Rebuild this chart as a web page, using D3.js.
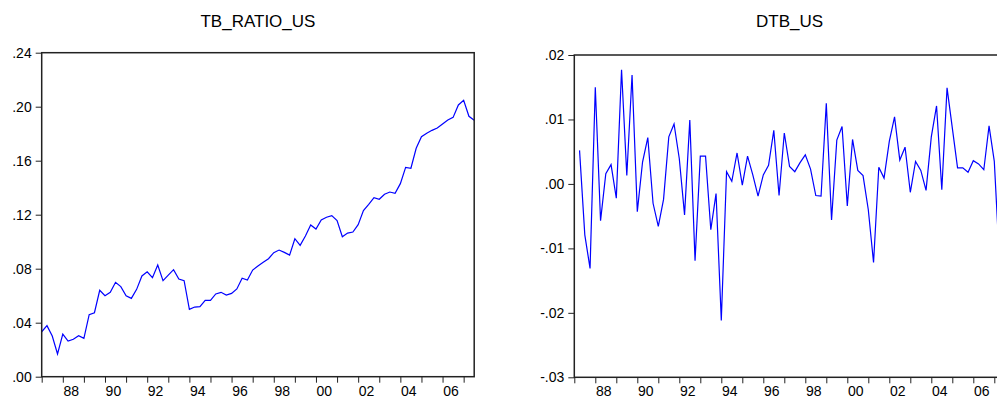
<!DOCTYPE html>
<html>
<head>
<meta charset="utf-8">
<script src="https://cdn.jsdelivr.net/npm/d3@7"></script>
<style>
  body { margin: 0; background: #fff; }
  svg { display: block; font-family: Arial, "Liberation Sans", sans-serif; }
</style>
</head>
<body>
<div id="chart"></div>
<script>
// quarterly sample 1987Q1 .. 2007Q3, index 0 = 1987Q1
const startYear = 1987;
const nObs = 83;

const tbRatio = [
  0.0333, 0.0378, 0.0301, 0.0168, 0.0316, 0.0264, 0.0277, 0.0304, 0.0284, 0.0460,
  0.0474, 0.0640, 0.0600, 0.0625, 0.0699, 0.0667, 0.0600, 0.0580, 0.0647, 0.0746,
  0.0777, 0.0733, 0.0827, 0.0711, 0.0753, 0.0793, 0.0724, 0.0711, 0.0499, 0.0516,
  0.0519, 0.0566, 0.0566, 0.0613, 0.0625, 0.0605, 0.0617, 0.0650, 0.0729, 0.0716,
  0.0790, 0.0820, 0.0847, 0.0874, 0.0919, 0.0938, 0.0921, 0.0901, 0.1022, 0.0973,
  0.1042, 0.1124, 0.1094, 0.1161, 0.1181, 0.1193, 0.1156, 0.1037, 0.1064, 0.1072,
  0.1126, 0.1230, 0.1276, 0.1326, 0.1314, 0.1351, 0.1368, 0.1358, 0.1430, 0.1551,
  0.1544, 0.1692, 0.1778, 0.1803, 0.1825, 0.1842, 0.1872, 0.1901, 0.1921, 0.2013,
  0.2047, 0.1929, 0.1899
];

// first difference, starts at 1987Q2 (index 1)
const dtb = [
  0.0052, -0.0079, -0.0131, 0.0150, -0.0057, 0.0016, 0.0030, -0.0022, 0.0177, 0.0013,
  0.0169, -0.0043, 0.0034, 0.0072, -0.0030, -0.0066, -0.0024, 0.0073, 0.0093, 0.0039,
  -0.0048, 0.0099, -0.0119, 0.0043, 0.0043, -0.0071, -0.0015, -0.0212, 0.0019, 0.0004,
  0.0048, -0.0002, 0.0043, 0.0014, -0.0019, 0.0014, 0.0029, 0.0083, -0.0018, 0.0079,
  0.0027, 0.0019, 0.0033, 0.0045, 0.0023, -0.0018, -0.0019, 0.0125, -0.0056, 0.0068,
  0.0089, -0.0034, 0.0069, 0.0021, 0.0013, -0.0040, -0.0122, 0.0026, 0.0009, 0.0066,
  0.0104, 0.0037, 0.0057, -0.0013, 0.0035, 0.0021, -0.0010, 0.0073, 0.0121, -0.0009,
  0.0149, 0.0087, 0.0025, 0.0025, 0.0018, 0.0036, 0.0031, 0.0022, 0.0090, 0.0035,
  -0.0122, -0.0030
];

const tbTicks = [0, 0.04, 0.08, 0.12, 0.16, 0.20, 0.24];
const dtbTicks = [-0.03, -0.02, -0.01, 0, 0.01, 0.02];

const width = 997, height = 401;

const svg = d3.select('#chart').append('svg')
  .attr('width', width)
  .attr('height', height);

svg.append('rect').attr('width', width).attr('height', height).attr('fill', '#fff');

// eviews style: ".24", "-.01"
function fmtTick(v) {
  const s = d3.format('.2f')(Math.abs(v)).replace(/^0/, '');
  return (v < -1e-9 ? '-' : '') + s;
}

function drawPanel(opts) {
  const x = d3.scaleLinear().domain([0, nObs - 1]).range([opts.left, opts.right]);
  const y = d3.scaleLinear().domain(opts.domain).range([opts.bottom, opts.top]);
  const quarterPx = x(1) - x(0);

  const g = svg.append('g');

  // title
  g.append('text')
    .attr('x', (opts.left + opts.right) / 2)
    .attr('y', 27)
    .attr('text-anchor', 'middle')
    .style('font-size', '17px')
    .attr('fill', '#000')
    .text(opts.title);

  // y axis
  const yAxis = d3.axisLeft(y)
    .tickValues(opts.ticks)
    .tickFormat(fmtTick)
    .tickSize(6)
    .tickPadding(4);
  const ya = g.append('g')
    .attr('transform', 'translate(' + opts.left + ',0)')
    .call(yAxis);
  ya.select('.domain').remove();
  ya.selectAll('line').attr('stroke', '#222');
  ya.selectAll('text').style('font-size', '14px').attr('fill', '#000');

  // x axis: a tick per year, label every 2nd year shifted into the year
  const yearIdx = d3.range(0, nObs, 4);
  const xAxis = d3.axisBottom(x)
    .tickValues(yearIdx)
    .tickFormat(i => {
      const yr = startYear + i / 4;
      return yr % 2 === 0 ? String(yr % 100).padStart(2, '0') : '';
    })
    .tickSize(6)
    .tickPadding(3);
  const xa = g.append('g')
    .attr('transform', 'translate(0,' + opts.bottom + ')')
    .call(xAxis);
  xa.select('.domain').remove();
  xa.selectAll('line').attr('stroke', '#222');
  xa.selectAll('text')
    .attr('x', quarterPx * 1.5)
    .style('font-size', '14px')
    .attr('fill', '#000');

  // series line
  const line = d3.line()
    .x(d => x(d.i))
    .y(d => y(d.v));

  g.append('path')
    .datum(opts.values.map((v, k) => ({ i: k + opts.offset, v: v })))
    .attr('fill', 'none')
    .attr('stroke', '#0000ff')
    .attr('stroke-width', 1.2)
    .attr('stroke-linejoin', 'miter')
    .attr('d', line);

  // frame
  g.append('rect')
    .attr('x', opts.left)
    .attr('y', opts.top)
    .attr('width', opts.right - opts.left)
    .attr('height', opts.bottom - opts.top)
    .attr('fill', 'none')
    .attr('stroke', '#222')
    .attr('stroke-width', 1.5);
}

drawPanel({
  title: 'TB_RATIO_US',
  values: tbRatio,
  offset: 0,
  domain: [0, 0.24],
  ticks: tbTicks,
  left: 41.7, right: 474.2, top: 52.7, bottom: 376.7
});

drawPanel({
  title: 'DTB_US',
  values: dtb,
  offset: 1,
  domain: [-0.03, 0.02],
  ticks: dtbTicks,
  left: 574.3, right: 1004.8, top: 55, bottom: 377.3
});
</script>
</body>
</html>
